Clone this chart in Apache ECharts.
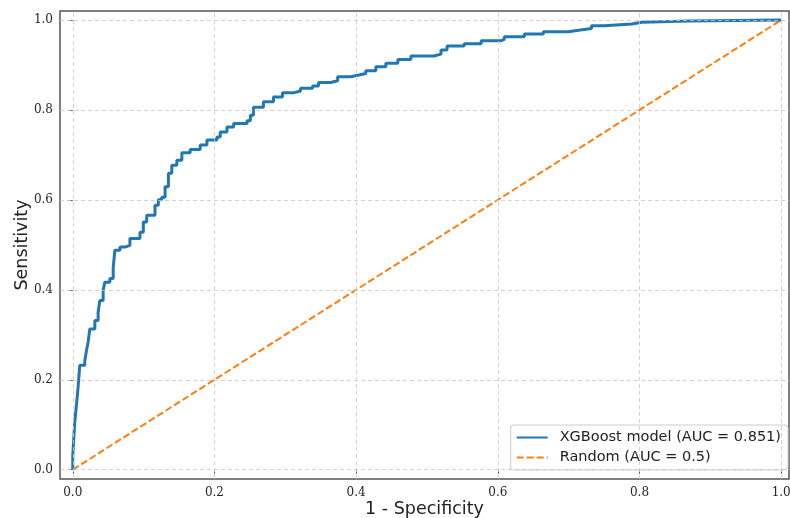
<!DOCTYPE html>
<html>
<head>
<meta charset="utf-8">
<script src="https://cdn.jsdelivr.net/npm/echarts@6/dist/echarts.min.js"></script>
<style>html,body{margin:0;padding:0;background:#fff}#c{width:790px;height:518px}</style>
</head>
<body>
<div id="c"></div>
<script>
// ROC curve points (1 - specificity, sensitivity)
const fpr = [0,0,0.0028,0.0028,0.0052,0.0052,0.0075,0.0075,0.0099,0.0099,0.0170,0.0170,0.0194,0.0194,0.0217,0.0217,0.0241,0.0241,0.0312,0.0312,0.0358,0.0358,0.0382,0.0382,0.0429,0.0429,0.0453,0.0453,0.0524,0.0524,0.0571,0.0571,0.0595,0.0595,0.0666,0.0666,0.0737,0.0737,0.0807,0.0807,0.0949,0.0949,0.0996,0.0996,0.1044,0.1044,0.1161,0.1161,0.1208,0.1208,0.1256,0.1256,0.1303,0.1303,0.1350,0.1350,0.1398,0.1398,0.1469,0.1469,0.1540,0.1540,0.1657,0.1657,0.1799,0.1799,0.1894,0.1894,0.2035,0.2035,0.2082,0.2082,0.2177,0.2177,0.2271,0.2271,0.2460,0.2460,0.2507,0.2507,0.2550,0.2550,0.2691,0.2691,0.2833,0.2833,0.2960,0.2960,0.3116,0.3116,0.3215,0.3215,0.3385,0.3385,0.3470,0.3470,0.3640,0.3640,0.3739,0.3739,0.3924,0.3924,0.4023,0.4023,0.4136,0.4136,0.4278,0.4278,0.4419,0.4419,0.4589,0.4589,0.4773,0.4773,0.5099,0.5099,0.5198,0.5198,0.5283,0.5283,0.5524,0.5524,0.5765,0.5765,0.6048,0.6048,0.6091,0.6091,0.6374,0.6374,0.6643,0.6643,0.6997,0.6997,0.7139,0.7139,0.7323,0.7323,0.7507,0.7507,0.7890,0.7890,0.8031,0.8031,0.8697,0.8697,1.0];
const tpr = [0,0.031,0.031,0.105,0.105,0.143,0.143,0.183,0.183,0.232,0.232,0.243,0.243,0.265,0.265,0.284,0.284,0.313,0.313,0.332,0.332,0.350,0.350,0.376,0.376,0.399,0.399,0.417,0.417,0.425,0.425,0.450,0.450,0.488,0.488,0.495,0.495,0.499,0.499,0.514,0.514,0.528,0.528,0.551,0.551,0.566,0.566,0.588,0.588,0.600,0.600,0.606,0.606,0.629,0.629,0.659,0.659,0.677,0.677,0.688,0.688,0.705,0.705,0.712,0.712,0.722,0.722,0.733,0.733,0.740,0.740,0.751,0.751,0.762,0.762,0.770,0.770,0.776,0.776,0.788,0.788,0.806,0.806,0.818,0.818,0.829,0.829,0.838,0.838,0.842,0.842,0.848,0.848,0.853,0.853,0.861,0.861,0.865,0.865,0.874,0.874,0.877,0.877,0.881,0.881,0.887,0.887,0.896,0.896,0.904,0.904,0.912,0.912,0.920,0.920,0.924,0.924,0.933,0.933,0.942,0.942,0.947,0.947,0.954,0.954,0.957,0.957,0.963,0.963,0.969,0.969,0.974,0.974,0.977,0.977,0.981,0.981,0.987,0.987,0.991,0.991,0.995,0.995,0.998,0.998,1.0,1.0];
const randomX = [0, 1];
const randomY = [0, 1];
const tickValues = [0, 0.2, 0.4, 0.6, 0.8, 1.0];
const modelName = 'XGBoost model (AUC = 0.851)';
const randomName = 'Random (AUC = 0.5)';
const xTitle = '1 - Specificity';
const yTitle = 'Sensitivity';

const chart = echarts.init(document.getElementById('c'), null, {renderer: 'canvas'});
const rocData = fpr.map((x, i) => [x, tpr[i]]);
const rndData = randomX.map((x, i) => [x, randomY[i]]);
const gridLines = tickValues.map(v => ({xAxis: v})).concat(tickValues.map(v => ({yAxis: v})));
const tickLabel = {
  customValues: tickValues,
  formatter: v => v.toFixed(1),
  fontFamily: 'DejaVu Serif', fontSize: 12, color: '#262626'
};
chart.setOption({
  animation: false,
  backgroundColor: '#fff',
  grid: {left: 60, top: 11, width: 729, height: 468, show: true, borderColor: '#555', borderWidth: 1.5,
    backgroundColor: 'transparent', containLabel: false, outerBoundsMode: 'none'},
  xAxis: {
    type: 'value', min: -0.018, max: 1.011,
    axisLine: {show: false},
    axisTick: {show: true, customValues: tickValues, length: 4, lineStyle: {color: '#555'}},
    axisLabel: Object.assign({margin: 8}, tickLabel),
    splitLine: {show: false},
    name: xTitle, nameLocation: 'middle', nameGap: 21, nameMoveOverlap: false,
    nameTextStyle: {fontFamily: 'DejaVu Sans', fontSize: 17.5, color: '#222', verticalAlign: 'top'}
  },
  yAxis: {
    type: 'value', min: -0.0207, max: 1.02,
    axisLine: {show: false},
    axisTick: {show: true, customValues: tickValues, length: 4, lineStyle: {color: '#555'}},
    axisLabel: Object.assign({margin: 7}, tickLabel),
    splitLine: {show: false},
    name: yTitle, nameLocation: 'middle', nameGap: 29, nameRotate: 90, nameMoveOverlap: false,
    nameTextStyle: {fontFamily: 'DejaVu Sans', fontSize: 17.5, color: '#222'}
  },
  legend: {
    data: [modelName, randomName],
    orient: 'vertical', right: 2, bottom: 48,
    backgroundColor: 'rgba(255,255,255,0.85)',
    borderColor: '#ccc', borderWidth: 1, borderRadius: 3,
    padding: [5, 7, 5, 5], itemGap: 5, itemWidth: 31, itemHeight: 14,
    itemStyle: {opacity: 0},
    textStyle: {fontFamily: 'DejaVu Sans', fontSize: 14.5, color: '#222', padding: [0, 0, 0, 7]}
  },
  series: [
    {
      name: 'grid', type: 'line', data: [], z: 1, silent: true,
      markLine: {silent: true, symbol: 'none', label: {show: false},
        lineStyle: {color: '#c8c8c8', type: [4, 3], width: 0.8}, data: gridLines, animation: false}
    },
    {
      name: modelName, type: 'line', data: rocData, showSymbol: false, symbol: 'none', z: 4,
      lineStyle: {color: '#1f77b4', width: 3}, itemStyle: {color: '#1f77b4'}
    },
    {
      name: randomName, type: 'line', data: rndData, showSymbol: false, symbol: 'none', z: 3,
      lineStyle: {color: '#ff7f0e', width: 2, type: [7, 3]}, itemStyle: {color: '#ff7f0e'}
    }
  ]
});
</script>
</body>
</html>
